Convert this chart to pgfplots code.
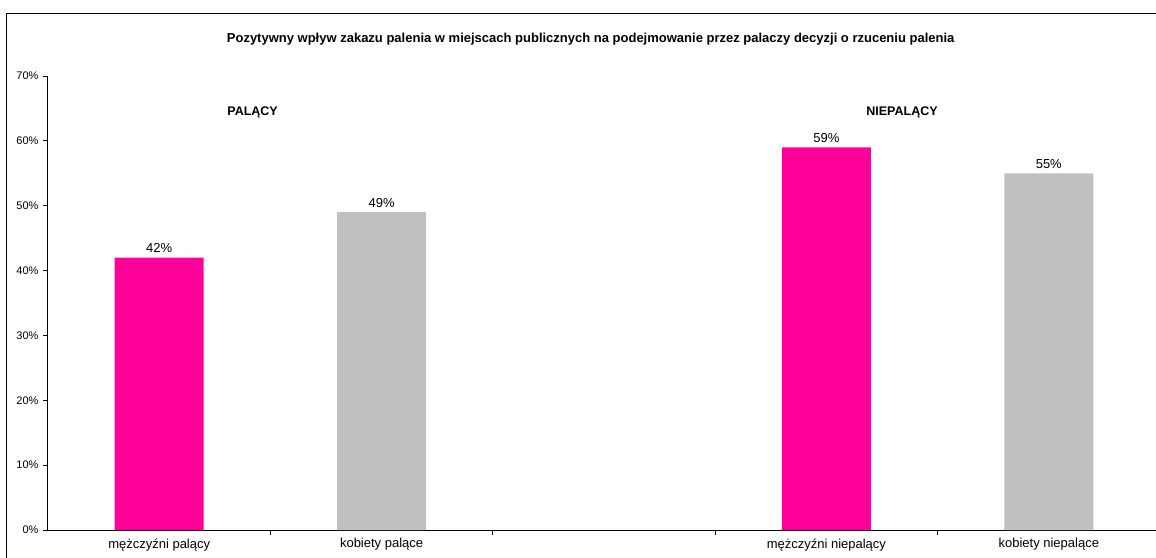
\documentclass[border=0pt]{standalone}
\usepackage{pgfplots}
\pgfplotsset{compat=1.18}
\usepackage{fontspec}
\setmainfont{Liberation Sans}
\definecolor{pinkbar}{RGB}{255,0,153}
\definecolor{graybar}{RGB}{192,192,192}
\begin{document}
\begin{tikzpicture}
\begin{axis}[
  at={(0pt,0pt)}, anchor=south west,
  scale only axis,
  width=1112pt, height=454pt,
  xmin=-0.5, xmax=4.5,
  ymin=0, ymax=70,
  axis lines=left,
  axis line style={-, line width=1pt},
  clip=false,
  ytick={0,10,...,70},
  yticklabel={\pgfmathprintnumber{\tick}\%},
  yticklabel style={font=\fontsize{11}{13}\selectfont, xshift=-1pt},
  tick align=outside,
  major tick length=5pt,
  tick style={black, line width=0.8pt},
  xtick={0.5,1.5,2.5,3.5},
  xticklabels={},
  extra x ticks={0,1,3,4},
  extra x tick labels={mężczyźni palący, kobiety palące, mężczyźni niepalący, kobiety niepalące},
  extra x tick style={major tick length=0pt, xticklabel style={font=\fontsize{13}{15}\selectfont, yshift=-5pt}},
  /pgf/number format/assume math mode=true,
  ybar, bar width=89pt, bar shift=0pt,
  nodes near coords={\pgfmathprintnumber{\pgfplotspointmeta}\%},
  every node near coord/.append style={font=\fontsize{13}{15}\selectfont, black, yshift=1pt},
]
\addplot[fill=pinkbar, draw=none] coordinates {(0,42) (3,59)};
\addplot[fill=graybar, draw=none] coordinates {(1,49) (4,55)};
\node[font=\bfseries\fontsize{13}{15}\selectfont] at (axis cs:1.94,75.7) {Pozytywny wpływ zakazu palenia w miejscach publicznych na podejmowanie przez palaczy decyzji o rzuceniu palenia};
\node[font=\bfseries\fontsize{12.5}{14}\selectfont] at (axis cs:0.42,64.4) {PALĄCY};
\node[font=\bfseries\fontsize{12.5}{14}\selectfont] at (axis cs:3.34,64.4) {NIEPALĄCY};
\end{axis}
\draw[line width=1pt] (-41pt,-100pt) -- (-41pt,516pt) -- (1300pt,516pt);
\pgfresetboundingbox
\path[use as bounding box] (-48pt,-27pt) rectangle (1108pt,530pt);
\end{tikzpicture}
\end{document}
